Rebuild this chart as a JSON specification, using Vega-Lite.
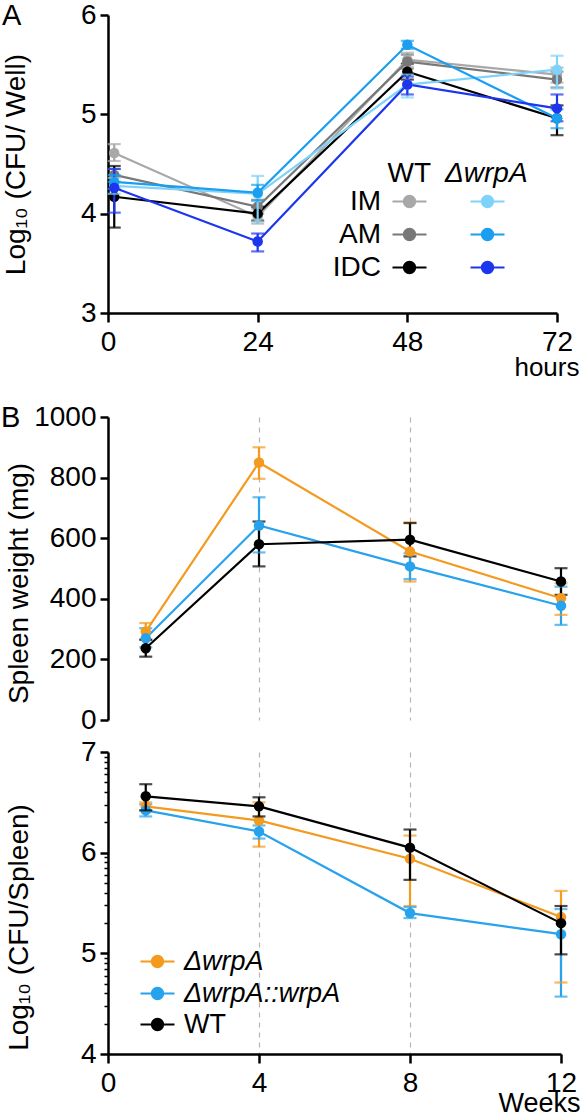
{
  "$schema": "https://vega.github.io/schema/vega-lite/v6.json",
  "padding": {"left": 1, "top": 1, "right": 0, "bottom": 0},
  "config": {
    "font": "Liberation Sans",
    "view": {"stroke": null},
    "axis": {"domainColor": "#000", "domainWidth": 2.5, "tickColor": "#000", "tickWidth": 2.5, "tickSize": 8, "labelFontSize": 28, "labelColor": "#000", "titleFontSize": 28, "titleFontWeight": "normal", "titleColor": "#000", "grid": false, "labelFlush": false, "labelOverlap": false, "labelBound": false, "labelPadding": 4},
    "legend": {"padding": 0, "labelFontSize": 28, "labelColor": "#000", "titleFontSize": 28, "titleFontWeight": "normal", "titleColor": "#000", "symbolStrokeWidth": 2.5, "symbolSize": 1156, "symbolType": "M-1,0L1,0M-0.33,0A0.33,0.33,0,1,0,0.33,0A0.33,0.33,0,1,0,-0.33,0Z", "rowPadding": -1, "titlePadding": -5, "labelLimit": 400},
    "title": {"fontSize": 29, "fontWeight": "normal", "color": "#000", "anchor": "start", "frame": "group"},
    "line": {"strokeWidth": 2.2},
    "rule": {"strokeWidth": 2.2}
  },
  "datasets": {
    "a": [
      {"strain": "WT", "cell": "IM", "hour": 1, "mean": 4.61, "lo": 4.53, "hi": 4.70},
      {"strain": "WT", "cell": "IM", "hour": 24, "mean": 3.97, "lo": 3.90, "hi": 4.05},
      {"strain": "WT", "cell": "IM", "hour": 48, "mean": 5.55, "lo": 5.48, "hi": 5.62},
      {"strain": "WT", "cell": "IM", "hour": 72, "mean": 5.40, "lo": 5.32, "hi": 5.47},
      {"strain": "WT", "cell": "AM", "hour": 1, "mean": 4.39, "lo": 4.32, "hi": 4.45},
      {"strain": "WT", "cell": "AM", "hour": 24, "mean": 4.07, "lo": 4.00, "hi": 4.14},
      {"strain": "WT", "cell": "AM", "hour": 48, "mean": 5.53, "lo": 5.46, "hi": 5.60},
      {"strain": "WT", "cell": "AM", "hour": 72, "mean": 5.35, "lo": 5.27, "hi": 5.43},
      {"strain": "WT", "cell": "IDC", "hour": 1, "mean": 4.17, "lo": 3.86, "hi": 4.48},
      {"strain": "WT", "cell": "IDC", "hour": 24, "mean": 4.00, "lo": 3.93, "hi": 4.07},
      {"strain": "WT", "cell": "IDC", "hour": 48, "mean": 5.43, "lo": 5.35, "hi": 5.51},
      {"strain": "WT", "cell": "IDC", "hour": 72, "mean": 4.96, "lo": 4.79, "hi": 5.09},
      {"strain": "ΔwrpA", "cell": "IM", "hour": 1, "mean": 4.28, "lo": 4.20, "hi": 4.36},
      {"strain": "ΔwrpA", "cell": "IM", "hour": 24, "mean": 4.20, "lo": 3.92, "hi": 4.38},
      {"strain": "ΔwrpA", "cell": "IM", "hour": 48, "mean": 5.30, "lo": 5.17, "hi": 5.40},
      {"strain": "ΔwrpA", "cell": "IM", "hour": 72, "mean": 5.45, "lo": 5.26, "hi": 5.59},
      {"strain": "ΔwrpA", "cell": "AM", "hour": 1, "mean": 4.32, "lo": 4.25, "hi": 4.39},
      {"strain": "ΔwrpA", "cell": "AM", "hour": 24, "mean": 4.21, "lo": 4.13, "hi": 4.29},
      {"strain": "ΔwrpA", "cell": "AM", "hour": 48, "mean": 5.70, "lo": 5.66, "hi": 5.74},
      {"strain": "ΔwrpA", "cell": "AM", "hour": 72, "mean": 4.96, "lo": 4.86, "hi": 5.05},
      {"strain": "ΔwrpA", "cell": "IDC", "hour": 1, "mean": 4.26, "lo": 4.01, "hi": 4.45},
      {"strain": "ΔwrpA", "cell": "IDC", "hour": 24, "mean": 3.72, "lo": 3.62, "hi": 3.80},
      {"strain": "ΔwrpA", "cell": "IDC", "hour": 48, "mean": 5.30, "lo": 5.20, "hi": 5.38},
      {"strain": "ΔwrpA", "cell": "IDC", "hour": 72, "mean": 5.06, "lo": 4.93, "hi": 5.20}
    ],
    "b1": [
      {"strain": "ΔwrpA", "week": 1, "mean": 292, "lo": 265, "hi": 320},
      {"strain": "ΔwrpA", "week": 4, "mean": 850, "lo": 796, "hi": 900},
      {"strain": "ΔwrpA", "week": 8, "mean": 556, "lo": 457, "hi": 652},
      {"strain": "ΔwrpA", "week": 12, "mean": 402, "lo": 347, "hi": 451},
      {"strain": "ΔwrpA::wrpA", "week": 1, "mean": 270, "lo": 240, "hi": 303},
      {"strain": "ΔwrpA::wrpA", "week": 4, "mean": 642, "lo": 553, "hi": 735},
      {"strain": "ΔwrpA::wrpA", "week": 8, "mean": 507, "lo": 465, "hi": 550},
      {"strain": "ΔwrpA::wrpA", "week": 12, "mean": 377, "lo": 314, "hi": 440},
      {"strain": "WT", "week": 1, "mean": 237, "lo": 209, "hi": 265},
      {"strain": "WT", "week": 4, "mean": 580, "lo": 507, "hi": 655},
      {"strain": "WT", "week": 8, "mean": 595, "lo": 540, "hi": 650},
      {"strain": "WT", "week": 12, "mean": 457, "lo": 413, "hi": 501}
    ],
    "b2": [
      {"strain": "ΔwrpA", "week": 1, "mean": 6.46, "lo": 6.42, "hi": 6.50},
      {"strain": "ΔwrpA", "week": 4, "mean": 6.32, "lo": 6.06, "hi": 6.50},
      {"strain": "ΔwrpA", "week": 8, "mean": 5.94, "lo": 5.47, "hi": 6.17},
      {"strain": "ΔwrpA", "week": 12, "mean": 5.36, "lo": 4.71, "hi": 5.62},
      {"strain": "ΔwrpA::wrpA", "week": 1, "mean": 6.42, "lo": 6.36, "hi": 6.48},
      {"strain": "ΔwrpA::wrpA", "week": 4, "mean": 6.21, "lo": 6.14, "hi": 6.27},
      {"strain": "ΔwrpA::wrpA", "week": 8, "mean": 5.40, "lo": 5.35, "hi": 5.46},
      {"strain": "ΔwrpA::wrpA", "week": 12, "mean": 5.19, "lo": 4.57, "hi": 5.44},
      {"strain": "WT", "week": 1, "mean": 6.56, "lo": 6.42, "hi": 6.68},
      {"strain": "WT", "week": 4, "mean": 6.46, "lo": 6.36, "hi": 6.55},
      {"strain": "WT", "week": 8, "mean": 6.05, "lo": 5.73, "hi": 6.23},
      {"strain": "WT", "week": 12, "mean": 5.30, "lo": 4.99, "hi": 5.47}
    ]
  },
  "spacing": 104,
  "bounds": "flush",
  "resolve": {"scale": {"color": "independent", "stroke": "independent", "fill": "independent"}},
  "vconcat": [
    {
      "name": "pa",
      "width": 449,
      "height": 298,
      "title": {"text": "A", "dx": -106, "dy": 53, "baseline": "alphabetic", "offset": 0},
      "data": {"name": "a"},
      "encoding": {
        "x": {"field": "hour", "type": "quantitative", "scale": {"domain": [0, 72], "nice": false},
          "axis": {"values": [0, 24, 48, 72], "title": "hours", "titleX": 471, "titleY": 62, "titleAlign": "right", "titleBaseline": "alphabetic", "titleFontSize": 26, "tickSize": 9, "labelPadding": 6}},
        "y": {"field": "mean", "type": "quantitative", "scale": {"domain": [3, 6], "nice": false, "zero": false},
          "axis": {"values": [3, 4, 5, 6], "format": "d", "title": "Log₁₀ (CFU/ Well)", "titleX": -78, "titleY": 149, "titleBaseline": "bottom"}}
      },
      "layer": [
        {"transform": [{"filter": "datum.strain == 'WT'"}], "mark": {"type": "rule"},
          "encoding": {"y": {"field": "lo", "type": "quantitative", "title": "Log₁₀ (CFU/ Well)"}, "y2": {"field": "hi"},
            "color": {"field": "cell", "type": "nominal", "scale": {"domain": ["IDC", "AM", "IM"], "range": ["#000000", "#787878", "#a8a8a8"]}}}},
        {"transform": [{"filter": "datum.strain == 'WT'"}], "mark": {"type": "tick", "orient": "horizontal", "size": 13, "thickness": 2.2},
          "encoding": {"y": {"field": "lo", "type": "quantitative", "title": "Log₁₀ (CFU/ Well)"},
            "color": {"field": "cell", "type": "nominal", "scale": {"domain": ["IDC", "AM", "IM"], "range": ["#000000", "#787878", "#a8a8a8"]}}}},
        {"transform": [{"filter": "datum.strain == 'WT'"}], "mark": {"type": "tick", "orient": "horizontal", "size": 13, "thickness": 2.2},
          "encoding": {"y": {"field": "hi", "type": "quantitative", "title": "Log₁₀ (CFU/ Well)"},
            "color": {"field": "cell", "type": "nominal", "scale": {"domain": ["IDC", "AM", "IM"], "range": ["#000000", "#787878", "#a8a8a8"]}}}},
        {"transform": [{"filter": "datum.strain == 'WT'"}], "mark": {"type": "line"},
          "encoding": {
            "color": {"field": "cell", "type": "nominal", "scale": {"domain": ["IDC", "AM", "IM"], "range": ["#000000", "#787878", "#a8a8a8"]},
              "legend": {"title": "WT", "values": ["IM", "AM", "IDC"], "orient": "none", "legendX": 279, "legendY": 145, "titleAnchor": "end", "labelAlign": "right", "labelOffset": -47,
                "symbolType": "M-1,0L1,0M-0.33,0A0.33,0.33,0,1,0,0.33,0A0.33,0.33,0,1,0,-0.33,0Z", "symbolSize": 1156, "symbolStrokeWidth": 2.5}}}},
        {"transform": [{"filter": "datum.strain == 'WT'"}], "mark": {"type": "point", "filled": true, "size": 110, "opacity": 1},
          "encoding": {"color": {"field": "cell", "type": "nominal", "scale": {"domain": ["IDC", "AM", "IM"], "range": ["#000000", "#787878", "#a8a8a8"]}}}},
        {"transform": [{"filter": "datum.strain != 'WT'"}], "mark": {"type": "rule"},
          "encoding": {"y": {"field": "lo", "type": "quantitative", "title": "Log₁₀ (CFU/ Well)"}, "y2": {"field": "hi"},
            "stroke": {"field": "cell", "type": "nominal", "scale": {"domain": ["IM", "AM", "IDC"], "range": ["#7fd3fa", "#1a9ff0", "#1c35ee"]}}}},
        {"transform": [{"filter": "datum.strain != 'WT'"}], "mark": {"type": "tick", "orient": "horizontal", "size": 13, "thickness": 2.2},
          "encoding": {"y": {"field": "lo", "type": "quantitative", "title": "Log₁₀ (CFU/ Well)"},
            "fill": {"field": "cell", "type": "nominal", "scale": {"domain": ["IM", "AM", "IDC"], "range": ["#7fd3fa", "#1a9ff0", "#1c35ee"]}}}},
        {"transform": [{"filter": "datum.strain != 'WT'"}], "mark": {"type": "tick", "orient": "horizontal", "size": 13, "thickness": 2.2},
          "encoding": {"y": {"field": "hi", "type": "quantitative", "title": "Log₁₀ (CFU/ Well)"},
            "fill": {"field": "cell", "type": "nominal", "scale": {"domain": ["IM", "AM", "IDC"], "range": ["#7fd3fa", "#1a9ff0", "#1c35ee"]}}}},
        {"transform": [{"filter": "datum.strain != 'WT'"}], "mark": {"type": "line"},
          "encoding": {
            "stroke": {"field": "cell", "type": "nominal", "scale": {"domain": ["IM", "AM", "IDC"], "range": ["#7fd3fa", "#1a9ff0", "#1c35ee"]},
              "legend": {"title": "ΔwrpA", "titleFontStyle": "italic", "orient": "none", "legendX": 337, "legendY": 145, "labelExpr": "''", "symbolOffset": 24,
                "symbolType": "M-1,0L1,0M-0.33,0A0.33,0.33,0,1,0,0.33,0A0.33,0.33,0,1,0,-0.33,0Z", "symbolSize": 1156, "symbolStrokeWidth": 2.5}}}},
        {"transform": [{"filter": "datum.strain != 'WT'"}], "mark": {"type": "point", "filled": true, "size": 110, "opacity": 1},
          "encoding": {"fill": {"field": "cell", "type": "nominal", "scale": {"domain": ["IM", "AM", "IDC"], "range": ["#7fd3fa", "#1a9ff0", "#1c35ee"]},
              "legend": {"title": "ΔwrpA", "titleFontStyle": "italic", "orient": "none", "legendX": 337, "legendY": 145, "labelExpr": "''", "symbolOffset": 24,
                "symbolType": "M-1,0L1,0M-0.33,0A0.33,0.33,0,1,0,0.33,0A0.33,0.33,0,1,0,-0.33,0Z", "symbolSize": 1156, "symbolStrokeWidth": 2.5}}}}
      ]
    },
    {
      "spacing": 32,
      "bounds": "flush",
      "resolve": {"scale": {"color": "independent", "stroke": "independent", "fill": "independent"}},
      "vconcat": [
        {
          "name": "pb1",
          "width": 453,
          "height": 303,
          "title": {"text": "B", "dx": -107, "dy": 53, "baseline": "alphabetic", "offset": 0},
          "data": {"name": "b1"},
          "encoding": {
            "x": {"field": "week", "type": "quantitative", "scale": {"domain": [0, 12], "nice": false},
              "axis": {"values": [4, 8], "domain": false, "ticks": false, "labels": false, "grid": true, "gridDash": [5, 5], "gridColor": "#b5b5b5", "gridWidth": 1.2, "title": null}},
            "y": {"field": "mean", "type": "quantitative", "scale": {"domain": [0, 1000], "nice": false},
              "axis": {"values": [0, 200, 400, 600, 800, 1000], "format": "d", "title": "Spleen weight (mg)", "titleX": -75, "titleY": 166, "titleBaseline": "bottom"}},
            "color": {"field": "strain", "type": "nominal", "scale": {"domain": ["ΔwrpA", "ΔwrpA::wrpA", "WT"], "range": ["#f39a1f", "#27a2ec", "#000000"]}, "legend": null}
          },
          "layer": [
            {"mark": {"type": "rule"}, "encoding": {"y": {"field": "lo", "type": "quantitative", "title": "Spleen weight (mg)"}, "y2": {"field": "hi"}}},
            {"mark": {"type": "tick", "orient": "horizontal", "size": 13, "thickness": 2.2}, "encoding": {"y": {"field": "lo", "type": "quantitative", "title": "Spleen weight (mg)"}}},
            {"mark": {"type": "tick", "orient": "horizontal", "size": 13, "thickness": 2.2}, "encoding": {"y": {"field": "hi", "type": "quantitative", "title": "Spleen weight (mg)"}}},
            {"mark": {"type": "line"}},
            {"mark": {"type": "point", "filled": true, "size": 110, "opacity": 1}}
          ]
        },
        {
          "name": "pb2",
          "width": 453,
          "height": 302,
          "data": {"name": "b2"},
          "encoding": {
            "x": {"field": "week", "type": "quantitative", "scale": {"domain": [0, 12], "nice": false},
              "axis": {"values": [0, 4, 8, 12], "title": "Weeks", "titleX": 472, "titleY": 57, "titleAlign": "right", "titleBaseline": "alphabetic", "titleFontSize": 27, "tickSize": 9, "labelPadding": 6,
                "grid": true, "gridDash": [5, 5], "gridColor": "#b5b5b5", "gridWidth": 1.2, "gridOpacity": {"condition": {"test": "datum.value == 4 || datum.value == 8", "value": 1}, "value": 0}}},
            "y": {"field": "mean", "type": "quantitative", "scale": {"domain": [4, 7], "nice": false, "zero": false},
              "axis": {"values": [4, 4.301, 4.477, 4.602, 4.699, 4.778, 4.845, 4.903, 4.954, 5, 5.301, 5.477, 5.602, 5.699, 5.778, 5.845, 5.903, 5.954, 6, 6.301, 6.477, 6.602, 6.699, 6.778, 6.845, 6.903, 6.954, 7],
                "labelExpr": "datum.value % 1 === 0 ? format(datum.value, 'd') : ''",
                "tickSize": {"condition": {"test": "datum.value % 1 === 0", "value": 8}, "value": 4},
                "tickWidth": {"condition": {"test": "datum.value % 1 === 0", "value": 2.5}, "value": 1.5},
                "title": "Log₁₀ (CFU/Spleen)", "titleX": -75, "titleY": 175, "titleBaseline": "bottom"}}
          },
          "layer": [
            {"transform": [{"filter": "datum.strain != 'WT'"}], "mark": {"type": "rule"},
              "encoding": {"y": {"field": "lo", "type": "quantitative", "title": "Log₁₀ (CFU/Spleen)"}, "y2": {"field": "hi"},
                "color": {"field": "strain", "type": "nominal", "scale": {"domain": ["ΔwrpA", "ΔwrpA::wrpA"], "range": ["#f39a1f", "#27a2ec"]}}}},
            {"transform": [{"filter": "datum.strain != 'WT'"}], "mark": {"type": "tick", "orient": "horizontal", "size": 13, "thickness": 2.2},
              "encoding": {"y": {"field": "lo", "type": "quantitative", "title": "Log₁₀ (CFU/Spleen)"},
                "color": {"field": "strain", "type": "nominal", "scale": {"domain": ["ΔwrpA", "ΔwrpA::wrpA"], "range": ["#f39a1f", "#27a2ec"]}}}},
            {"transform": [{"filter": "datum.strain != 'WT'"}], "mark": {"type": "tick", "orient": "horizontal", "size": 13, "thickness": 2.2},
              "encoding": {"y": {"field": "hi", "type": "quantitative", "title": "Log₁₀ (CFU/Spleen)"},
                "color": {"field": "strain", "type": "nominal", "scale": {"domain": ["ΔwrpA", "ΔwrpA::wrpA"], "range": ["#f39a1f", "#27a2ec"]}}}},
            {"transform": [{"filter": "datum.strain != 'WT'"}], "mark": {"type": "line"},
              "encoding": {"color": {"field": "strain", "type": "nominal", "scale": {"domain": ["ΔwrpA", "ΔwrpA::wrpA"], "range": ["#f39a1f", "#27a2ec"]},
                "legend": {"title": null, "orient": "none", "legendX": 31, "legendY": 191, "labelFontSize": 27, "labelOffset": 8, "rowPadding": -3, "labelFontStyle": "italic",
                  "symbolType": "M-1,0L1,0M-0.33,0A0.33,0.33,0,1,0,0.33,0A0.33,0.33,0,1,0,-0.33,0Z", "symbolSize": 1156, "symbolStrokeWidth": 2.5}}}},
            {"transform": [{"filter": "datum.strain != 'WT'"}], "mark": {"type": "point", "filled": true, "size": 110, "opacity": 1},
              "encoding": {"color": {"field": "strain", "type": "nominal", "scale": {"domain": ["ΔwrpA", "ΔwrpA::wrpA"], "range": ["#f39a1f", "#27a2ec"]}}}},
            {"transform": [{"filter": "datum.strain == 'WT'"}], "mark": {"type": "rule"},
              "encoding": {"y": {"field": "lo", "type": "quantitative", "title": "Log₁₀ (CFU/Spleen)"}, "y2": {"field": "hi"},
                "stroke": {"field": "strain", "type": "nominal", "scale": {"domain": ["WT"], "range": ["#000000"]}}}},
            {"transform": [{"filter": "datum.strain == 'WT'"}], "mark": {"type": "tick", "orient": "horizontal", "size": 13, "thickness": 2.2},
              "encoding": {"y": {"field": "lo", "type": "quantitative", "title": "Log₁₀ (CFU/Spleen)"},
                "fill": {"field": "strain", "type": "nominal", "scale": {"domain": ["WT"], "range": ["#000000"]}}}},
            {"transform": [{"filter": "datum.strain == 'WT'"}], "mark": {"type": "tick", "orient": "horizontal", "size": 13, "thickness": 2.2},
              "encoding": {"y": {"field": "hi", "type": "quantitative", "title": "Log₁₀ (CFU/Spleen)"},
                "fill": {"field": "strain", "type": "nominal", "scale": {"domain": ["WT"], "range": ["#000000"]}}}},
            {"transform": [{"filter": "datum.strain == 'WT'"}], "mark": {"type": "line"},
              "encoding": {"stroke": {"field": "strain", "type": "nominal", "scale": {"domain": ["WT"], "range": ["#000000"]},
                "legend": {"title": null, "orient": "none", "legendX": 31, "legendY": 254, "labelFontSize": 27, "labelOffset": 8, "labelFontStyle": "normal",
                  "symbolType": "M-1,0L1,0M-0.33,0A0.33,0.33,0,1,0,0.33,0A0.33,0.33,0,1,0,-0.33,0Z", "symbolSize": 1156, "symbolStrokeWidth": 2.5}}}},
            {"transform": [{"filter": "datum.strain == 'WT'"}], "mark": {"type": "point", "filled": true, "size": 110, "opacity": 1},
              "encoding": {"fill": {"field": "strain", "type": "nominal", "scale": {"domain": ["WT"], "range": ["#000000"]},
                "legend": {"title": null, "orient": "none", "legendX": 31, "legendY": 254, "labelFontSize": 27, "labelOffset": 8, "labelFontStyle": "normal",
                  "symbolType": "M-1,0L1,0M-0.33,0A0.33,0.33,0,1,0,0.33,0A0.33,0.33,0,1,0,-0.33,0Z", "symbolSize": 1156, "symbolStrokeWidth": 2.5}}}}
          ]
        }
      ]
    }
  ]
}
